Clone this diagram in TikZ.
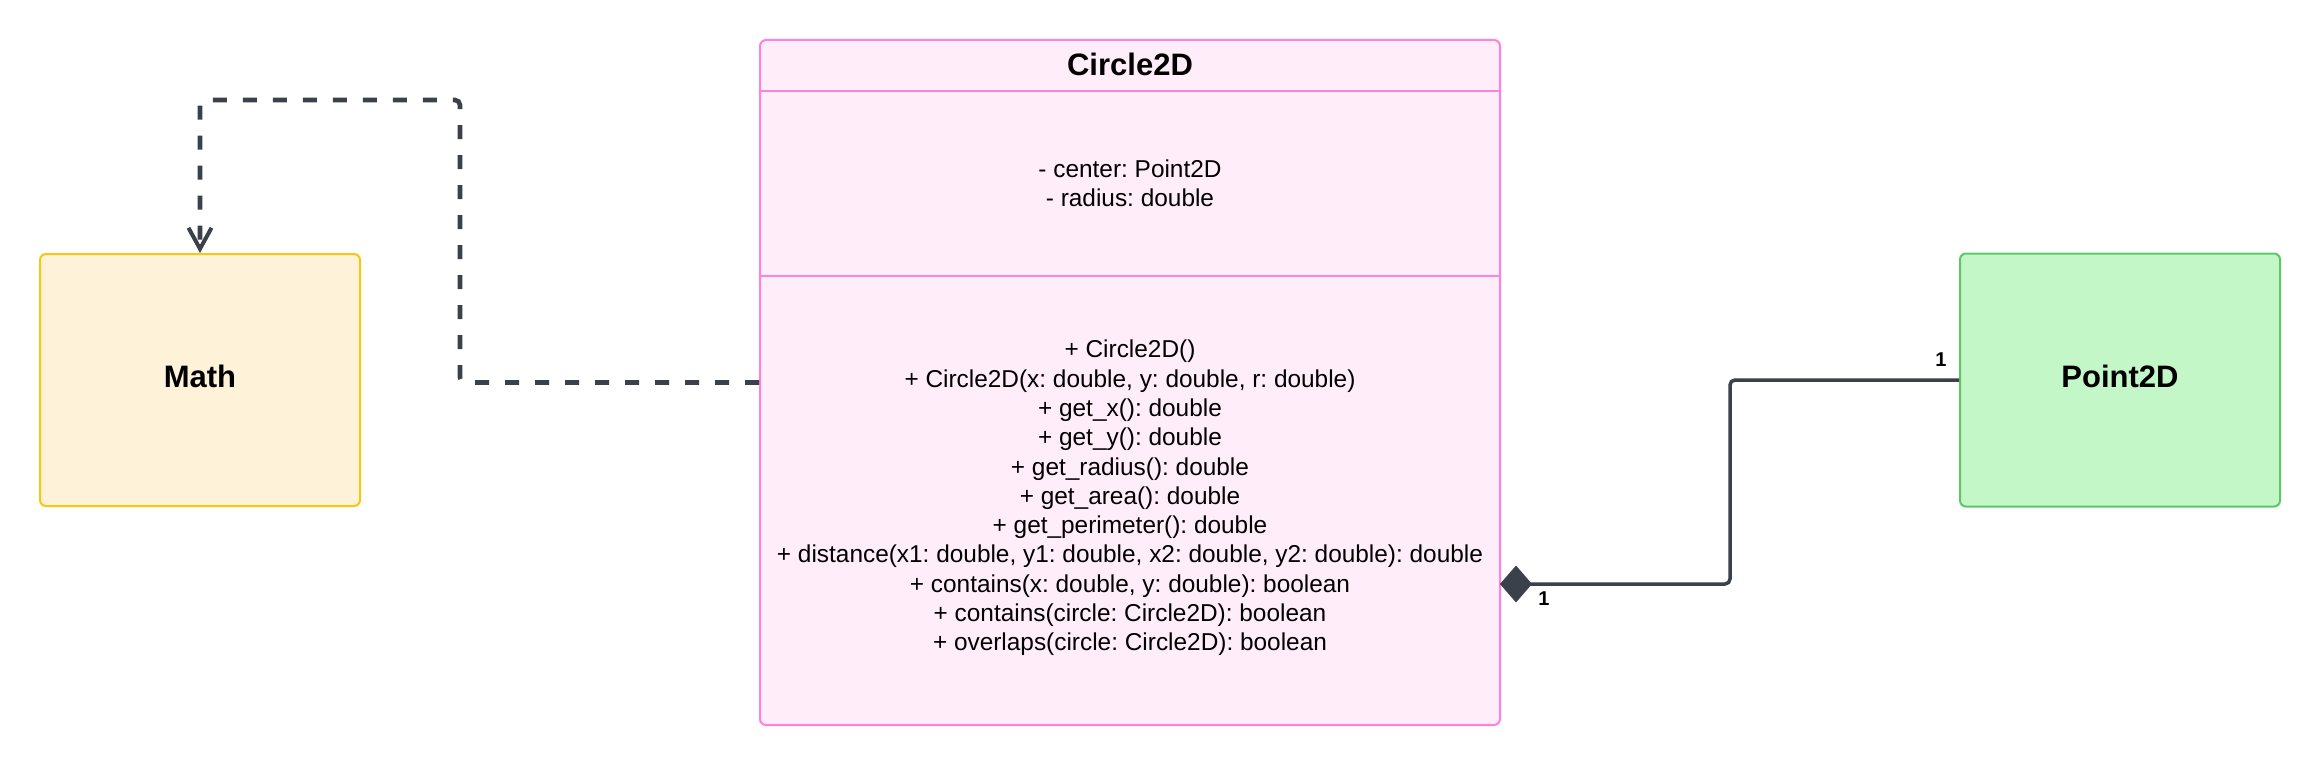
\documentclass[tikz,border=0pt]{standalone}
\usepackage{fontspec}
\setmainfont{Liberation Sans}
\usetikzlibrary{arrows.meta}
\usetikzlibrary{positioning}

\definecolor{linegray}{HTML}{3A414A}
\definecolor{mathfill}{HTML}{FEF2D9}
\definecolor{mathdraw}{HTML}{F9C80E}
\definecolor{classfill}{HTML}{FFEEFA}
\definecolor{classdraw}{HTML}{FF80DF}
\definecolor{pointfill}{HTML}{C3F7C8}
\definecolor{pointdraw}{HTML}{5CC863}

\begin{document}
\frenchspacing
\begin{tikzpicture}[x=0.5pt, y=-0.5pt,
  box/.style={draw, line width=1pt, rounded corners=3pt, inner sep=0pt, align=center},
  boldlabel/.style={font=\fontsize{15.5pt}{18pt}\selectfont\bfseries},
  members/.style={font=\fontsize{12.2pt}{14.65pt}\selectfont, align=center, inner sep=0pt},
  mult/.style={font=\fontsize{10pt}{12pt}\selectfont\bfseries, inner sep=0pt},
  depline/.style={draw=linegray, line width=2.3pt, dash pattern=on 7pt off 8pt,
    rounded corners=2.5pt, -{Straight Barb[length=10.5pt, width=11.5pt, line width=2pt]}},
  compline/.style={draw=linegray, line width=1.75pt, rounded corners=2.5pt,
    -{Diamond[length=16pt, width=18.5pt, fill=linegray]}},
  sepline/.style={draw=classdraw, line width=1pt}]

  \useasboundingbox (0,0) rectangle (2320,765);

  % Math
  \node[box, boldlabel, draw=mathdraw, fill=mathfill, text depth=4pt,
    minimum width=160pt, minimum height=126pt] (math) at (200,380) {Math};

  % Circle2D
  \node[box, draw=classdraw, fill=classfill,
    minimum width=370pt, minimum height=342.5pt] (circle) at (1130,382.5) {};
  \draw[sepline] ([yshift=-26pt]circle.north west) -- ([yshift=-26pt]circle.north east);
  \draw[sepline] ([yshift=-118.5pt]circle.north west) -- ([yshift=-118.5pt]circle.north east);
  \node[boldlabel, inner sep=0pt] (ctitle) at (1130,64) {Circle2D};
  \node[members] (cattrs) at (1130,183) {- center: Point2D\\- radius: double};
  \node[members] (cmethods) at (1130,498) {%
    + Circle2D()\\
    + Circle2D(x: double, y: double, r: double)\\
    + get\_x(): double\\
    + get\_y(): double\\
    + get\_radius(): double\\
    + get\_area(): double\\
    + get\_perimeter(): double\\
    + distance(x1: double, y1: double, x2: double, y2: double): double\\
    + contains(x: double, y: double): boolean\\
    + contains(circle: Circle2D): boolean\\
    + overlaps(circle: Circle2D): boolean};

  % Point2D
  \node[box, boldlabel, draw=pointdraw, fill=pointfill, text depth=4pt,
    minimum width=160pt, minimum height=126.5pt] (point) at (2120,380) {Point2D};

  % 依存
  \coordinate (depbend) at (460,100);
  \draw[depline] (circle.west) -| (depbend) -| (math.north);

  % コンポジション
  \coordinate (compbend) at (1730,584);
  \coordinate (compend) at (1500,584);
  \draw[compline] (point.west) -| (compbend) -- (compend);

  % 多重度
  \node[mult] (multpoint) at (1941,360) {1};
  \node[mult] (multcircle) at (1544,599) {1};
\end{tikzpicture}
\end{document}
